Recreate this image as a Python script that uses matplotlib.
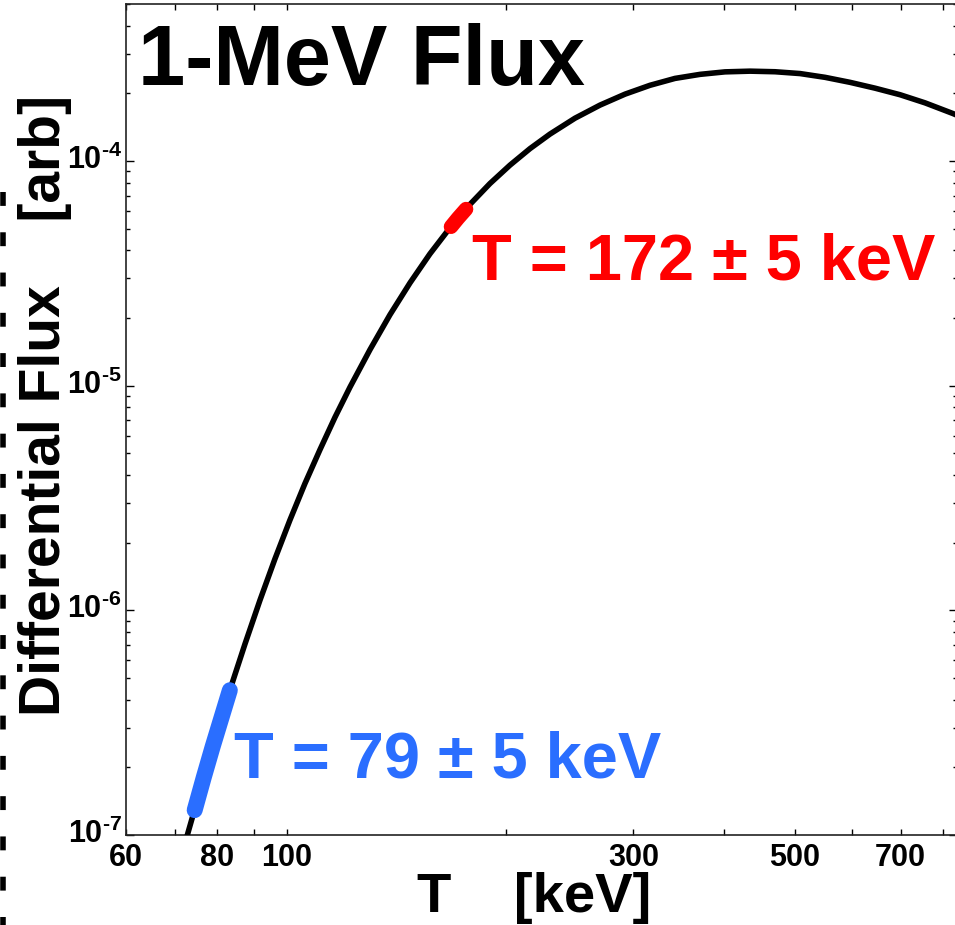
import matplotlib
matplotlib.use("Agg")
import numpy as np
import matplotlib.pyplot as plt
import matplotlib.transforms as mtransforms
from matplotlib.ticker import FixedLocator, FuncFormatter, NullFormatter
from matplotlib.lines import Line2D

# ---- data ----
curve_T = [72.0, 73.1, 75.9, 79.6, 83.4, 87.5, 91.75, 96.2, 100.9, 105.8,
           111.0, 116.4, 122.1, 130.1, 138.6, 147.7, 157.3, 167.6, 178.6,
           190.3, 202.8, 216.1, 230.2, 249.2, 269.8, 292.1, 316.1, 342.2,
           370.5, 401.1, 434.2, 470.0, 508.8, 550.8, 596.2, 645.4, 698.7,
           756.4, 826.7, 845.2]
curve_F = [0.867e-7, 1.034e-7, 1.58e-7, 2.67e-7, 4.41e-7, 7.08e-7, 1.108e-6,
           1.69e-6, 2.52e-6, 3.66e-6, 5.19e-6, 7.23e-6, 9.86e-6, 1.448e-5,
           2.07e-5, 2.87e-5, 3.86e-5, 5.04e-5, 6.41e-5, 7.94e-5, 9.59e-5,
           1.136e-4, 1.318e-4, 1.551e-4, 1.774e-4, 1.985e-4, 2.173e-4,
           2.332e-4, 2.431e-4, 2.494e-4, 2.512e-4, 2.497e-4, 2.451e-4,
           2.358e-4, 2.240e-4, 2.110e-4, 1.973e-4, 1.815e-4, 1.626e-4,
           1.577e-4]

blue_T = [74.6, 76.8, 79.0, 81.2, 83.4]
blue_F = [1.29e-7, 1.81e-7, 2.48e-7, 3.32e-7, 4.41e-7]
red_T = [168.2, 172.0, 176.4]
red_F = [5.10e-5, 5.57e-5, 6.11e-5]

x_major = [60, 80, 100, 300, 500, 700]
x_minor = [70, 90, 200, 400, 600, 800]
y_major = [1e-7, 1e-6, 1e-5, 1e-4]

title = "1-MeV Flux"
red_label = "T = 172 \u00b1 5 keV"
blue_label = "T = 79 \u00b1 5 keV"
xlabel = "T    [keV]"
ylabel = "Differential Flux    [arb]"

# ---- style ----
plt.rcParams['font.family'] = ['Liberation Sans', 'DejaVu Sans']
plt.rcParams['mathtext.fontset'] = 'custom'
plt.rcParams['mathtext.rm'] = 'Liberation Sans:bold'
plt.rcParams['mathtext.bf'] = 'Liberation Sans:bold'
plt.rcParams['lines.scale_dashes'] = False

W, H = 955, 925
fig = plt.figure(figsize=(W / 100, H / 100), dpi=100)

def fx(px):
    return px / W

def fy(py):
    return 1 - py / H

left, right, top, bottom = 126, 957, 4, 835
ax = fig.add_axes([fx(left), fy(bottom), (right - left) / W, (bottom - top) / H])
ax.set_xscale('log')
ax.set_yscale('log')
ax.set_xlim(60, 837)
ax.set_ylim(1e-7, 5e-4)

BLUE = '#2a6eff'
RED = '#ff0000'

ax.plot(curve_T, curve_F, color='black', lw=4.0, solid_joinstyle='round',
        solid_capstyle='butt', zorder=3)
ax.plot(blue_T, blue_F, color=BLUE, lw=11.5, solid_capstyle='round',
        solid_joinstyle='round', zorder=4)
ax.plot(red_T, red_F, color=RED, lw=10.5, solid_capstyle='round',
        solid_joinstyle='round', zorder=4)

# ticks
ax.xaxis.set_major_locator(FixedLocator(x_major))
ax.xaxis.set_minor_locator(FixedLocator(x_minor))
ax.xaxis.set_major_formatter(FuncFormatter(lambda v, p: '%d' % int(round(v))))
ax.xaxis.set_minor_formatter(NullFormatter())
ax.yaxis.set_major_locator(FixedLocator(y_major))
y_minor = [m * 10.0 ** e for e in range(-7, -3) for m in range(2, 10)]
ax.yaxis.set_minor_locator(FixedLocator(y_minor))
ax.yaxis.set_major_formatter(FuncFormatter(
    lambda v, p: r'$\mathbf{10^{\text{-}%d}}$' % abs(int(round(np.log10(v))))))
ax.yaxis.set_minor_formatter(NullFormatter())

ax.tick_params(axis='x', which='both', direction='in', top=True, bottom=True,
               length=4, width=1.0, pad=6)
ax.tick_params(axis='x', which='major', labelsize=22)
ax.tick_params(axis='y', which='major', direction='in', left=True, right=True,
               length=6, width=1.0, labelsize=22, pad=3)
ax.tick_params(axis='y', which='minor', direction='in', left=True, right=True,
               length=3, width=1.0)
for lab in ax.get_xticklabels():
    lab.set_fontweight('bold')
# raise y tick labels a little so the "10" sits on the tick
shift = mtransforms.ScaledTranslation(0, 4 / 100, fig.dpi_scale_trans)
for lab in ax.get_yticklabels():
    lab.set_transform(lab.get_transform() + shift)
for s in ax.spines.values():
    s.set_linewidth(1.2)
    s.set_color('#222222')

# texts
fig.text(fx(138), fy(85), title, fontsize=61, fontweight='bold',
         ha='left', va='baseline')
fig.text(fx(472), fy(279), red_label, fontsize=46.8, fontweight='bold',
         color=RED, ha='left', va='baseline')
fig.text(fx(234), fy(778), blue_label, fontsize=46.8, fontweight='bold',
         color=BLUE, ha='left', va='baseline')
fig.text(fx(417), fy(912), xlabel, fontsize=40.5, fontweight='bold',
         ha='left', va='baseline')
fig.text(fx(60), fy(716), ylabel, fontsize=41, fontweight='bold',
         rotation=90, rotation_mode='anchor', ha='left', va='baseline')

# cropped dashed mark along the left edge
fig.add_artist(Line2D([fx(2.5), fx(2.5)], [fy(192), fy(925)],
                      transform=fig.transFigure, color='black', lw=4.0,
                      dashes=(10, 19)))

fig.savefig('out.png', dpi=100)
